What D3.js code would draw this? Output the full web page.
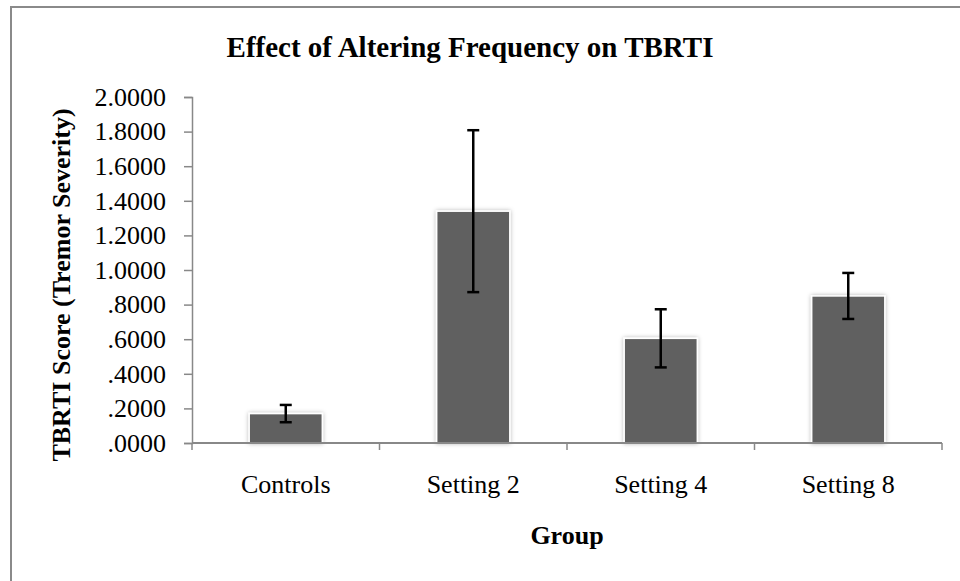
<!DOCTYPE html>
<html>
<head>
<meta charset="utf-8">
<script src="https://cdn.jsdelivr.net/npm/d3@7"></script>
<style>
  body { margin: 0; background: #fff; }
  svg, svg text { font-family: "Liberation Serif", "Times New Roman", serif; }
  svg { display: block; }
</style>
</head>
<body>
<script>
const groups = ["Controls", "Setting 2", "Setting 4", "Setting 8"];
const means = [0.17, 1.34, 0.605, 0.85];
const errors = [0.05, 0.468, 0.168, 0.133];
const yTicks = [0, 0.2, 0.4, 0.6, 0.8, 1.0, 1.2, 1.4, 1.6, 1.8, 2.0];

const svgWidth = 960,
    svgHeight = 581,
    margin = { top: 97, right: 18, bottom: 138, left: 192 },
    width = svgWidth - margin.left - margin.right,
    height = svgHeight - margin.top - margin.bottom;

var svg = d3.select("body").append("svg")
    .attr("width", svgWidth)
    .attr("height", svgHeight);

// soft glow round the bars
var defs = svg.append("defs");
var glow = defs.append("filter").attr("id", "glow")
    .attr("x", "-20%").attr("y", "-20%").attr("width", "140%").attr("height", "140%");
glow.append("feDropShadow")
    .attr("dx", 0).attr("dy", 0)
    .attr("stdDeviation", 2)
    .attr("flood-color", "#000")
    .attr("flood-opacity", 0.3);

// chart frame, runs off the right and bottom edges
svg.append("rect")
    .attr("x", 11).attr("y", 7)
    .attr("width", 980).attr("height", 600)
    .attr("fill", "none")
    .attr("stroke", "#8a8a8a")
    .attr("stroke-width", 2);

svg.append("text")
    .attr("x", 470).attr("y", 57)
    .attr("text-anchor", "middle")
    .attr("font-size", 29)
    .attr("font-weight", "bold")
    .text("Effect of Altering Frequency on TBRTI");

var g = svg.append("g")
    .attr("transform", "translate(" + margin.left + "," + margin.top + ")");

var x = d3.scaleBand().domain(groups).range([0, width]).padding(0);
var y = d3.scaleLinear().domain([0, 2]).range([height, 0]);

var barWidth = x.bandwidth() * 0.39;

// y axis
var fmt = d3.format(".4f");
var yAxis = g.append("g")
    .call(d3.axisLeft(y).tickValues(yTicks).tickSize(8).tickPadding(18)
        .tickFormat(function (d) { return fmt(d).replace(/^0/, ""); }))
    .attr("font-family", "Liberation Serif")
    .attr("font-size", 26);
yAxis.selectAll("text").attr("fill", "#000");
yAxis.selectAll("line, path").attr("stroke", "#888").attr("stroke-width", 1.5);

// bars
g.selectAll("rect.bar")
    .data(groups).enter()
    .append("rect")
    .attr("class", "bar")
    .attr("x", function (d) { return x(d) + (x.bandwidth() - barWidth) / 2; })
    .attr("y", function (d, i) { return y(means[i]); })
    .attr("width", barWidth)
    .attr("height", function (d, i) { return height - y(means[i]); })
    .attr("fill", "#606060")
    .attr("stroke", "#fff")
    .attr("stroke-width", 1.5)
    .attr("filter", "url(#glow)");

// x axis: line, boundary ticks, centred labels
var xAxis = g.append("g").attr("transform", "translate(0," + height + ")");
xAxis.append("line")
    .attr("x1", 0).attr("x2", width)
    .attr("stroke", "#888").attr("stroke-width", 2);
xAxis.selectAll("line.tick")
    .data(groups.map(function (d) { return x(d); }).concat([width])).enter()
    .append("line")
    .attr("class", "tick")
    .attr("x1", function (d) { return d; }).attr("x2", function (d) { return d; })
    .attr("y1", 0).attr("y2", 7)
    .attr("stroke", "#888").attr("stroke-width", 1.5);
xAxis.selectAll("text")
    .data(groups).enter()
    .append("text")
    .attr("x", function (d) { return x(d) + x.bandwidth() / 2; })
    .attr("y", 50)
    .attr("text-anchor", "middle")
    .attr("font-size", 26)
    .text(function (d) { return d; });

// error bars
var err = g.selectAll("g.err")
    .data(groups).enter()
    .append("g")
    .attr("class", "err")
    .attr("stroke", "#000")
    .attr("stroke-width", 2.5);
err.append("line")
    .attr("x1", function (d) { return x(d) + x.bandwidth() / 2; })
    .attr("x2", function (d) { return x(d) + x.bandwidth() / 2; })
    .attr("y1", function (d, i) { return y(means[i] - errors[i]); })
    .attr("y2", function (d, i) { return y(means[i] + errors[i]); });
[-1, 1].forEach(function (s) {
    err.append("line")
        .attr("x1", function (d) { return x(d) + x.bandwidth() / 2 - 6; })
        .attr("x2", function (d) { return x(d) + x.bandwidth() / 2 + 6; })
        .attr("y1", function (d, i) { return y(means[i] + s * errors[i]); })
        .attr("y2", function (d, i) { return y(means[i] + s * errors[i]); });
});

// axis titles
svg.append("text")
    .attr("transform", "translate(70,285) rotate(-90)")
    .attr("text-anchor", "middle")
    .attr("font-size", 26)
    .attr("font-weight", "bold")
    .text("TBRTI Score (Tremor Severity)");

svg.append("text")
    .attr("x", margin.left + width / 2).attr("y", 544)
    .attr("text-anchor", "middle")
    .attr("font-size", 26)
    .attr("font-weight", "bold")
    .text("Group");
</script>
</body>
</html>
